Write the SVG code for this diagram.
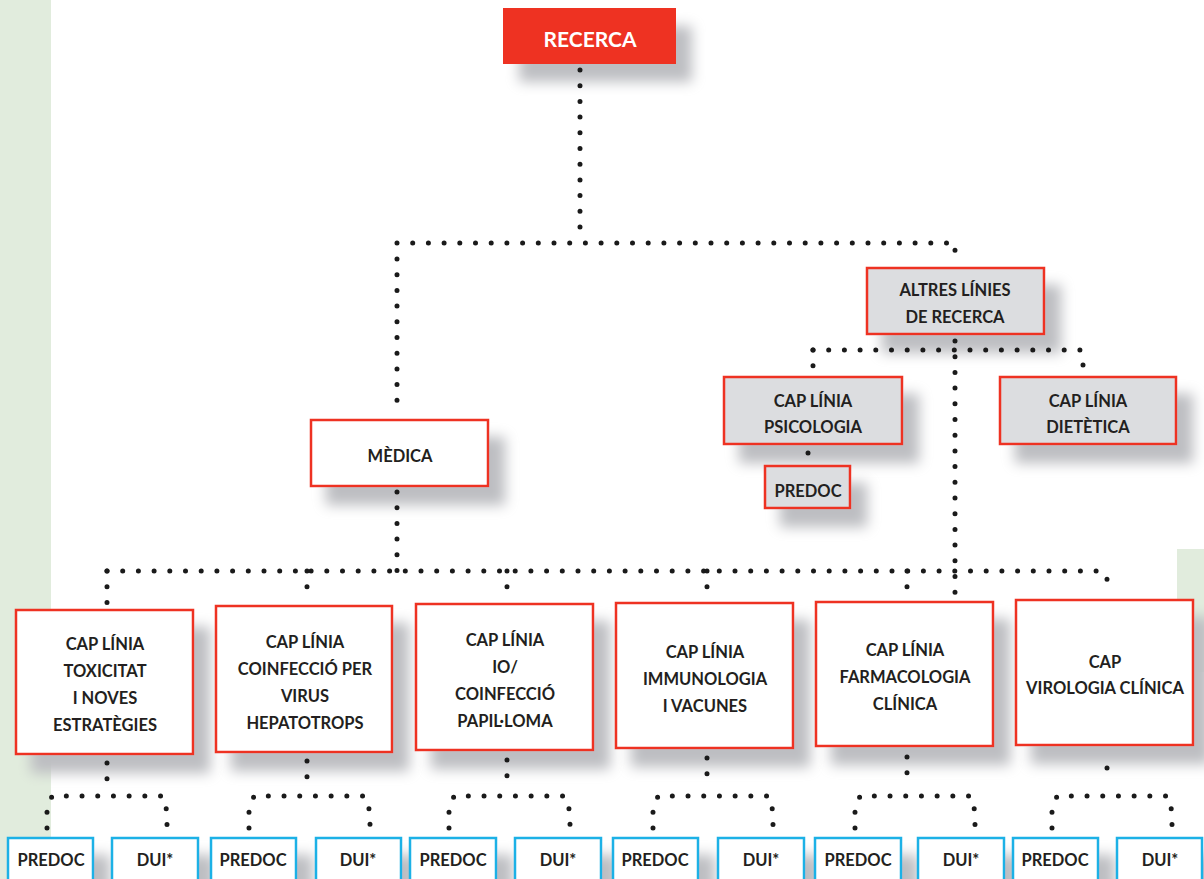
<svg xmlns="http://www.w3.org/2000/svg" width="1204" height="879" viewBox="0 0 1204 879">
  <style>
    .box { stroke: #ee3124; stroke-width: 2.5; fill: #ffffff; }
    .grey { fill: #dcdde0; }
    .sub { stroke: #1cb1e6; stroke-width: 2.5; fill: #ffffff; }
    .top { fill: #ee3124; }
    text { font-family: Lato, "Liberation Sans", "DejaVu Sans", sans-serif; font-weight: bold; font-size: 16.5px; fill: #231f20; text-anchor: middle; }
    .title { fill: #ffffff; font-size: 21px; }
    .dots { fill: none; stroke: #1a1a1a; stroke-width: 5; stroke-linecap: round; stroke-dasharray: 0 15.7; }
  </style>
  <defs>
    <filter id="shadow" x="-40%" y="-40%" width="200%" height="220%">
      <feGaussianBlur in="SourceAlpha" stdDeviation="6.5"/>
      <feOffset dx="16" dy="18" result="b"/>
      <feFlood flood-color="#bdbec2" flood-opacity="1"/>
      <feComposite in2="b" operator="in"/>
      <feMerge>
        <feMergeNode/>
        <feMergeNode in="SourceGraphic"/>
      </feMerge>
    </filter>
  </defs>

  <!-- background bands -->
  <rect x="0" y="0" width="1204" height="879" fill="#ffffff"/>
  <rect x="0" y="0" width="51" height="879" fill="#e1ecdd"/>
  <rect x="1177" y="549" width="27" height="123" fill="#e1ecdd"/>

  <g id="recerca">
    <rect class="top" x="503" y="8" width="173" height="56" filter="url(#shadow)"/>
    <text class="title" x="590" y="47">RECERCA</text>
  </g>

  <g id="altres">
    <rect class="box grey" x="867" y="268" width="177" height="66" filter="url(#shadow)"/>
    <text x="955" y="296">ALTRES LÍNIES</text>
    <text x="955" y="323">DE RECERCA</text>
  </g>

  <g id="psicologia">
    <rect class="box grey" x="724" y="377" width="178" height="67" filter="url(#shadow)"/>
    <text x="813" y="407">CAP LÍNIA</text>
    <text x="813" y="433">PSICOLOGIA</text>
  </g>

  <g id="psicologia-predoc">
    <rect class="box grey" x="765" y="466" width="85" height="42" filter="url(#shadow)"/>
    <text x="808" y="497">PREDOC</text>
  </g>

  <g id="dietetica">
    <rect class="box grey" x="1000" y="377" width="176" height="67" filter="url(#shadow)"/>
    <text x="1088" y="407">CAP LÍNIA</text>
    <text x="1088" y="433">DIETÈTICA</text>
  </g>

  <g id="medica">
    <rect class="box" x="311" y="420" width="177" height="66" filter="url(#shadow)"/>
    <text x="400" y="462">MÈDICA</text>
  </g>

  <g id="toxicitat">
    <rect class="box" x="16" y="610" width="177" height="144" filter="url(#shadow)"/>
    <text x="105" y="650">CAP LÍNIA</text>
    <text x="105" y="677">TOXICITAT</text>
    <text x="105" y="704">I NOVES</text>
    <text x="105" y="731">ESTRATÈGIES</text>
  </g>

  <g id="coinfeccio">
    <rect class="box" x="216" y="606" width="176" height="146" filter="url(#shadow)"/>
    <text x="305" y="648">CAP LÍNIA</text>
    <text x="305" y="675">COINFECCIÓ PER</text>
    <text x="305" y="702">VIRUS</text>
    <text x="305" y="729">HEPATOTROPS</text>
  </g>

  <g id="papilloma">
    <rect class="box" x="416" y="604" width="177" height="146" filter="url(#shadow)"/>
    <text x="505" y="646">CAP LÍNIA</text>
    <text x="505" y="673">IO/</text>
    <text x="505" y="700">COINFECCIÓ</text>
    <text x="505" y="727">PAPIL·LOMA</text>
  </g>

  <g id="immunologia">
    <rect class="box" x="616" y="603" width="177" height="145" filter="url(#shadow)"/>
    <text x="705" y="658">CAP LÍNIA</text>
    <text x="705" y="685">IMMUNOLOGIA</text>
    <text x="705" y="712">I VACUNES</text>
  </g>

  <g id="farmacologia">
    <rect class="box" x="816" y="602" width="177" height="144" filter="url(#shadow)"/>
    <text x="905" y="656">CAP LÍNIA</text>
    <text x="905" y="683">FARMACOLOGIA</text>
    <text x="905" y="710">CLÍNICA</text>
  </g>

  <g id="virologia">
    <rect class="box" x="1016" y="600" width="177" height="145" filter="url(#shadow)"/>
    <text x="1105" y="668">CAP</text>
    <text x="1105" y="694">VIROLOGIA CLÍNICA</text>
  </g>

  <!-- PREDOC / DUI* boxes under each line -->
  <g id="predoc-1"><rect class="sub" x="8" y="838" width="85" height="60" filter="url(#shadow)"/><text x="51" y="866">PREDOC</text></g>
  <g id="dui-1"><rect class="sub" x="112" y="838" width="86" height="60" filter="url(#shadow)"/><text x="155" y="866">DUI*</text></g>
  <g id="predoc-2"><rect class="sub" x="211" y="838" width="85" height="60" filter="url(#shadow)"/><text x="253" y="866">PREDOC</text></g>
  <g id="dui-2"><rect class="sub" x="316" y="838" width="85" height="60" filter="url(#shadow)"/><text x="358" y="866">DUI*</text></g>
  <g id="predoc-3"><rect class="sub" x="410" y="838" width="86" height="60" filter="url(#shadow)"/><text x="453" y="866">PREDOC</text></g>
  <g id="dui-3"><rect class="sub" x="515" y="838" width="86" height="60" filter="url(#shadow)"/><text x="558" y="866">DUI*</text></g>
  <g id="predoc-4"><rect class="sub" x="613" y="838" width="85" height="60" filter="url(#shadow)"/><text x="655" y="866">PREDOC</text></g>
  <g id="dui-4"><rect class="sub" x="718" y="838" width="86" height="60" filter="url(#shadow)"/><text x="761" y="866">DUI*</text></g>
  <g id="predoc-5"><rect class="sub" x="815" y="838" width="86" height="60" filter="url(#shadow)"/><text x="858" y="866">PREDOC</text></g>
  <g id="dui-5"><rect class="sub" x="918" y="838" width="86" height="60" filter="url(#shadow)"/><text x="961" y="866">DUI*</text></g>
  <g id="predoc-6"><rect class="sub" x="1013" y="838" width="85" height="60" filter="url(#shadow)"/><text x="1055" y="866">PREDOC</text></g>
  <g id="dui-6"><rect class="sub" x="1117" y="838" width="85" height="60" filter="url(#shadow)"/><text x="1160" y="866">DUI*</text></g>

  <!-- dotted connectors, drawn over the box shadows -->
  <g id="connectors" class="dots">
    <path d="M580 70 V242.5"/>
    <path d="M397 243 H955 V262"/>
    <path d="M397 259 V412"/>
    <path d="M955 341 V601"/>
    <path d="M813 350 H1080 L1083 357 V371"/>
    <path d="M813 350 V372"/>
    <path d="M808 453 V453.1"/>
    <path d="M397 492 V571"/>
    <path d="M107 571 H1101 L1107 577 V593"/>
    <path d="M107 571 V603"/>
    <path d="M307 571 V598"/>
    <path d="M507 571 V597"/>
    <path d="M707 571 V597"/>
    <path d="M907 571 V596"/>
    <!-- drops to PREDOC / DUI* -->
    <path d="M107 763 V779"/>
    <path d="M47 828 V812 L52 796 H163 L167 812 V828"/>
    <path d="M307 761 V777"/>
    <path d="M249 828 V812 L254 796 H365 L370 812 V828"/>
    <path d="M507 760 V776"/>
    <path d="M449 828 V812 L454 796 H565 L570 812 V828"/>
    <path d="M707 758 V774"/>
    <path d="M653 828 V812 L658 796 H769 L773 812 V828"/>
    <path d="M907 757 V773"/>
    <path d="M855 828 V812 L860 796 H971 L975 812 V828"/>
    <path d="M1107 768 V768.1"/>
    <path d="M1052 828 V812 L1057 796 H1168 L1172 812 V828"/>
  </g>
</svg>
